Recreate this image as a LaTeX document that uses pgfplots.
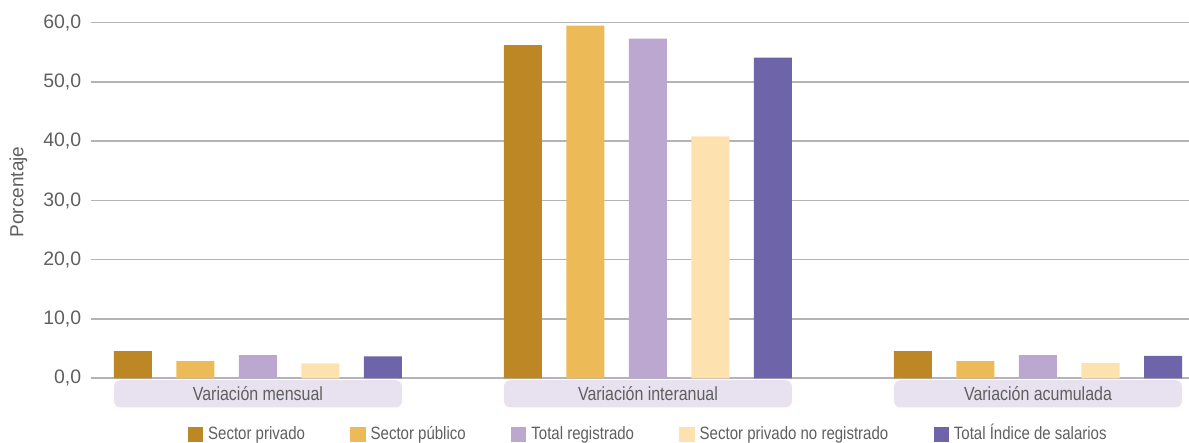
\documentclass[border=0pt]{standalone}
\usepackage{fontspec}
\setmainfont{Liberation Sans}
\newfontfamily\condfont{Liberation Sans}[FakeStretch=0.84]
\usepackage{pgfplots}
\pgfplotsset{compat=1.18}

\definecolor{privado}{HTML}{BE8725}
\definecolor{publico}{HTML}{ECBB57}
\definecolor{registrado}{HTML}{BBA7D0}
\definecolor{noregistrado}{HTML}{FDE2B0}
\definecolor{indice}{HTML}{6E64A9}
\definecolor{catbox}{HTML}{E7E1F0}
\definecolor{gridc}{HTML}{B4B4B4}
\definecolor{txt}{HTML}{5F5F5F}

\begin{document}
\begin{tikzpicture}
\useasboundingbox (-68.6pt,-48.5pt) rectangle (823.1pt,283.7pt);
\begin{axis}[
  scale only axis,
  width=823.1pt, height=266.7pt,
  ybar=18.375pt,
  bar width=28.5pt,
  ymin=0, ymax=60,
  xmin=-0.4269, xmax=2.3872,
  ytick={0,10,...,60},
  xtick={0,1,2},
  xticklabels={Variación mensual, Variación interanual, Variación acumulada},
  axis x line*=bottom,
  axis y line*=left,
  y axis line style={draw=none},
  x axis line style={draw=gridc, line width=1.3pt},
  major tick length=0pt,
  ymajorgrids,
  grid style={draw=gridc, line width=1.1pt},
  yticklabel style={font=\fontsize{14.6pt}{16pt}\selectfont, text=txt,
    inner sep=0pt, xshift=-7.5pt,
    /pgf/number format/.cd, fixed, fixed zerofill, precision=1, use comma,
    assume math mode=true},
  xticklabel style={font=\condfont\fontsize{14.25pt}{16pt}\selectfont, text=txt,
    fill=catbox, rounded corners=5pt, inner sep=0pt,
    minimum width=216pt, minimum height=20.5pt, anchor=north, yshift=-1.2pt},
  ylabel={Porcentaje},
  ylabel style={font=\fontsize{14.25pt}{16pt}\selectfont, text=txt,
    at={(axis description cs:-0.0665,0.524)}, anchor=center},
  legend columns=-1,
  legend image code/.code={\fill[#1] (0pt,-5.75pt) rectangle (11.5pt,5.75pt);},
  legend style={draw=none, fill=none, inner sep=0pt,
    at={(axis description cs:0.5064,-0.158)}, anchor=center,
    font=\condfont\fontsize{13.4pt}{15pt}\selectfont, text=txt,
    nodes={inner sep=0pt, text height=9.6pt, text depth=2.6pt},
    /tikz/every odd column/.append style={column sep=3.75pt},
    /tikz/every even column/.append style={column sep=34pt}},
  every axis plot/.append style={draw=none},
]
\addplot[fill=privado] coordinates {(0,4.6) (1,56.2) (2,4.6)};
\addplot[fill=publico] coordinates {(0,2.9) (1,59.5) (2,2.9)};
\addplot[fill=registrado] coordinates {(0,3.9) (1,57.3) (2,3.9)};
\addplot[fill=noregistrado] coordinates {(0,2.5) (1,40.8) (2,2.6)};
\addplot[fill=indice] coordinates {(0,3.7) (1,54.1) (2,3.8)};
\legend{Sector privado, Sector público, Total registrado, Sector privado no registrado, Total Índice de salarios}
\end{axis}
\end{tikzpicture}
\end{document}
